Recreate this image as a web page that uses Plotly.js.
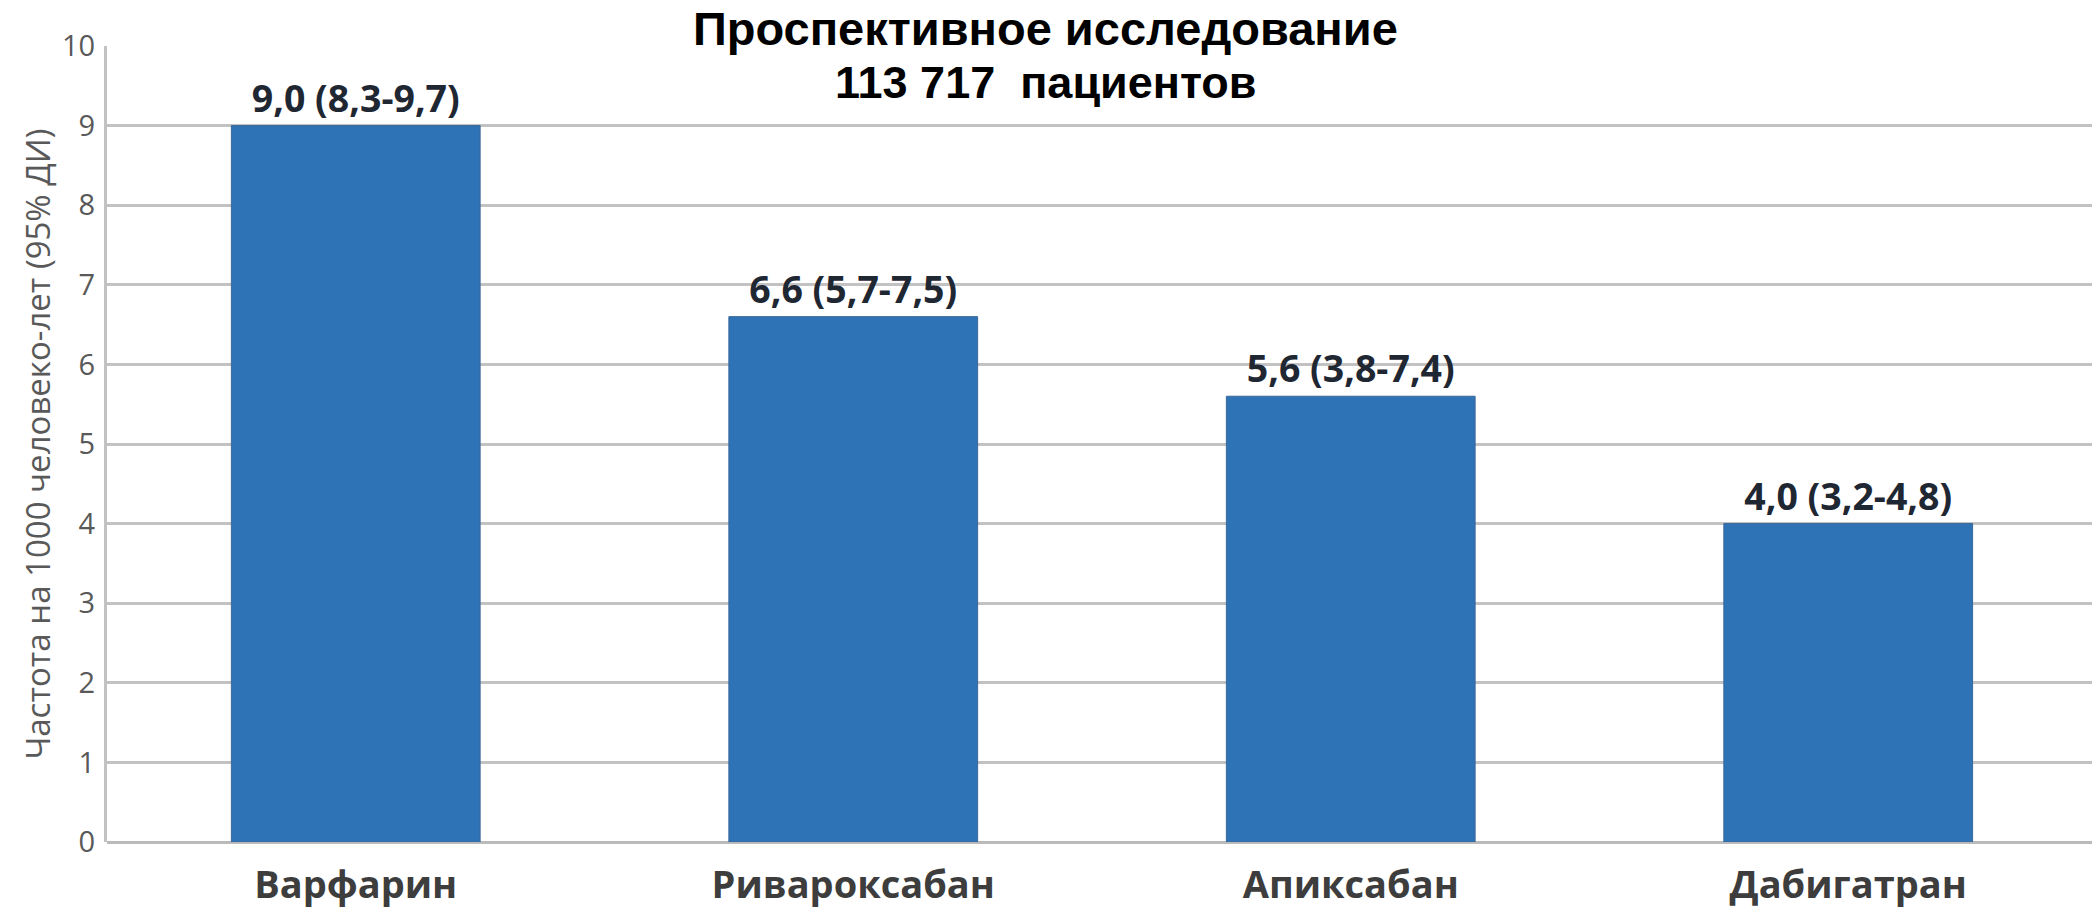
<!DOCTYPE html>
<html>
<head>
<meta charset="utf-8">
<script src="https://cdn.plot.ly/plotly-3.0.1.min.js"></script>
<style>html,body{margin:0;padding:0;background:#fff;}#chart{width:2092px;height:910px;}</style>
</head>
<body>
<div id="chart"></div>
<script>
const categories = ["Варфарин", "Ривароксабан", "Апиксабан", "Дабигатран"];
const rates = [9.0, 6.6, 5.6, 4.0];
const ciLabels = ["9,0 (8,3-9,7)", "6,6 (5,7-7,5)", "5,6 (3,8-7,4)", "4,0 (3,2-4,8)"];
const yTicks = [0, 1, 2, 3, 4, 5, 6, 7, 8, 9, 10];
const titleLines = ["Проспективное исследование", "113 717  пациентов"];
const yTitle = "Частота на 1000 человеко-лет (95% ДИ)";

const trace = {
  type: "bar",
  x: categories,
  y: rates,
  text: ciLabels,
  textposition: "outside",
  cliponaxis: false,
  textfont: {family: "Open Sans", size: 37.5, color: "#1f2733", weight: "bold"},
  marker: {color: "#2E73B5", line: {color: "#3a6799", width: 1}},
  hoverinfo: "none"
};

const layout = {
  width: 2092, height: 910,
  margin: {l: 107, r: 0, t: 46, b: 68, pad: 0},
  paper_bgcolor: "#ffffff",
  plot_bgcolor: "#ffffff",
  showlegend: false,
  bargap: 0.5,
  annotations: [
    {text: titleLines[0], xref: "paper", yref: "paper", x: 0.473, y: 1.022, xanchor: "center", yanchor: "middle", showarrow: false,
     font: {family: "Liberation Sans", size: 47, color: "#000000", weight: "bold"}},
    {text: titleLines[1], xref: "paper", yref: "paper", x: 0.473, y: 0.954, xanchor: "center", yanchor: "middle", showarrow: false,
     font: {family: "Liberation Sans", size: 45, color: "#000000", weight: "bold"}}
  ],
  xaxis: {
    type: "category",
    range: [-0.5, 3.49],
    showgrid: false,
    showline: false,
    zeroline: false,
    ticks: "",
    ticklabelstandoff: 17,
    tickfont: {family: "Open Sans", size: 38, color: "#3d3d3d", weight: "bold"}
  },
  yaxis: {
    range: [0, 10],
    tickvals: yTicks,
    ticktext: yTicks.map(String),
    showgrid: true,
    gridcolor: "#c2c2c2",
    gridwidth: 3,
    zeroline: true,
    zerolinecolor: "#bababa",
    zerolinewidth: 3,
    showline: true,
    linecolor: "#c2c2c2",
    linewidth: 3,
    ticks: "",
    ticklabelstandoff: 3,
    tickfont: {family: "Open Sans", size: 29, color: "#595959"},
    title: {text: yTitle, font: {family: "Open Sans", size: 33, color: "#595959"}, standoff: 2}
  }
};

Plotly.newPlot("chart", [trace], layout, {displayModeBar: false, staticPlot: true});
</script>
</body>
</html>
